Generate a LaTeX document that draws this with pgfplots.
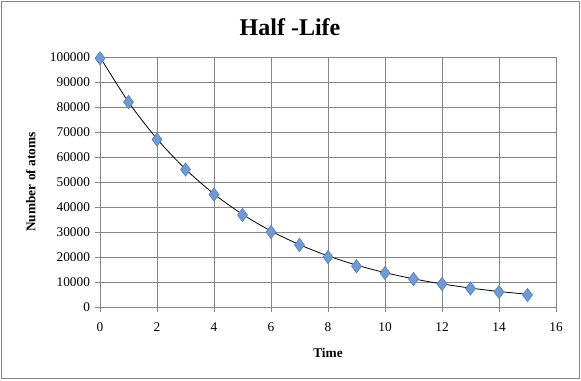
\documentclass[border=0pt]{standalone}
\usepackage{pgfplots}
\pgfplotsset{compat=1.18}
\usepackage{fontspec}
\setmainfont{Liberation Serif}
\definecolor{mk}{RGB}{110,155,215}
\definecolor{mkd}{RGB}{80,125,190}
\definecolor{gridc}{RGB}{134,134,134}
\begin{document}
\begin{tikzpicture}
\useasboundingbox (0,0) rectangle (435.75pt,285pt);
\draw[gridc, line width=0.9pt] (1.2pt,1.2pt) rectangle (434.55pt,283.8pt);
\node[font=\fontsize{18}{20}\selectfont\bfseries] at (217.5pt,264.5pt) {Half -Life};
\begin{axis}[
  at={(75pt,54.75pt)}, anchor=south west,
  scale only axis, width=342pt, height=187.5pt,
  xmin=0, xmax=16, ymin=0, ymax=100000,
  xtick={0,2,...,16}, ytick={0,10000,...,100000},
  scaled y ticks=false,
  /pgf/number format/assume math mode=true,
  /pgf/number format/.cd, fixed, set thousands separator={}, /pgfplots/.cd,
  grid=major, major grid style={gridc, line width=0.6pt},
  axis line style={gridc, line width=0.6pt},
  tick style={gridc, line width=0.6pt},
  tick align=outside, major tick length=4pt,
  xtick pos=bottom, ytick pos=left,
  tick label style={font=\fontsize{10}{12}\selectfont},
  xticklabel style={yshift=-4pt},
  xlabel={Time}, ylabel={Number of atoms},
  label style={font=\fontsize{10}{12}\selectfont\bfseries},
  xlabel style={yshift=-6pt},
  ylabel style={yshift=4pt},
  clip=false,
]
\addplot[black, line width=0.6pt, smooth, no markers] coordinates {
(0,100000) (1,82000) (2,67240) (3,55140) (4,45210) (5,37070) (6,30400) (7,24930) (8,20440) (9,16760) (10,13750) (11,11270) (12,9240) (13,7580) (14,6210) (15,5100)};
\addplot[only marks, mark=diamond*, mark size=5pt, mark options={fill=mk, draw=mkd, line width=0.4pt}] coordinates {
(0,99500) (1,82000) (2,67000) (3,55000) (4,45000) (5,36800) (6,30000) (7,24800) (8,20000) (9,16300) (10,13600) (11,11200) (12,9200) (13,7400) (14,6000) (15,4800)};
\end{axis}
\end{tikzpicture}
\end{document}
